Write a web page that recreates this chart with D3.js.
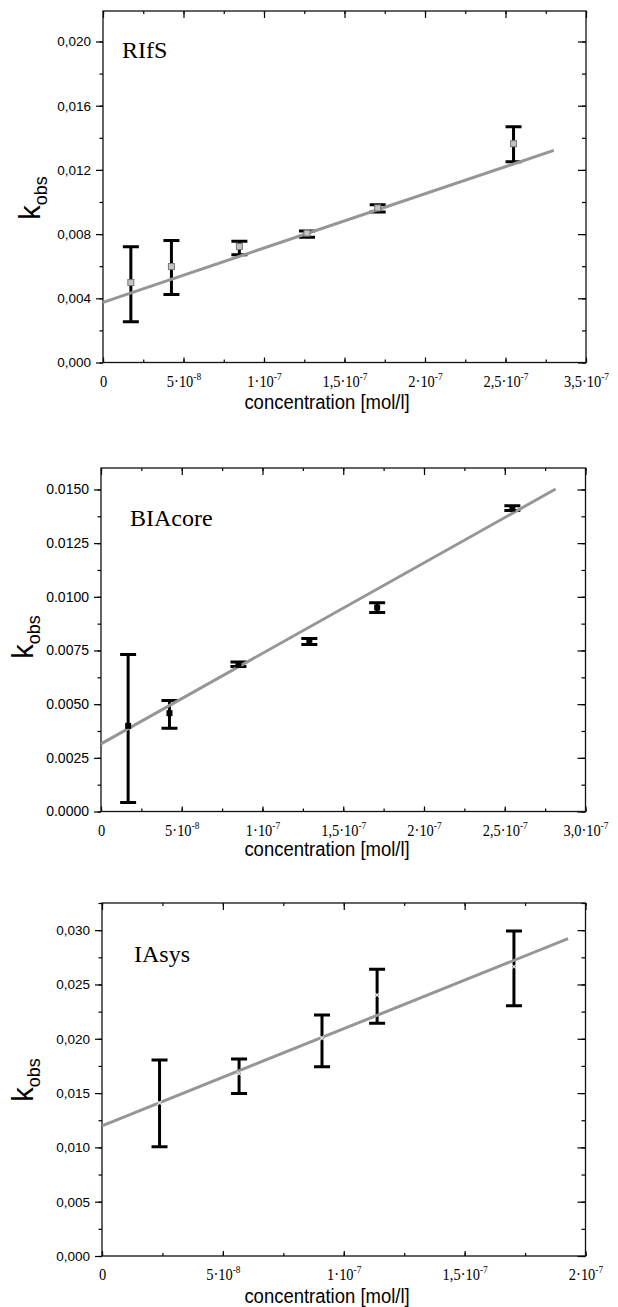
<!DOCTYPE html>
<html>
<head>
<meta charset="utf-8">
<script src="https://cdn.jsdelivr.net/npm/d3@7"></script>
<style>
  body { margin: 0; background: #fff; }
  svg { display: block; }
</style>
</head>
<body>
<svg width="618" height="1307"></svg>
<script>
var SANS = "'Liberation Sans', Arial, sans-serif";
var SERIF = "'Liberation Serif', 'Times New Roman', serif";

// ---- RIfS ----
var rifsConc  = [1.73e-8, 4.25e-8, 8.47e-8, 1.267e-7, 1.706e-7, 2.55e-7];
var rifsKobs  = [0.00498, 0.00598, 0.00723, 0.00806, 0.00963, 0.01363];
var rifsHi    = [0.00721, 0.00760, 0.00756, 0.00820, 0.00983, 0.01469];
var rifsLo    = [0.00254, 0.00423, 0.00671, 0.00780, 0.00938, 0.01250];
var rifsFit   = [0.00375, 33800];          // intercept, slope
var rifsFitEnd = 2.8e-7;
var rifsYTicks = [0, 0.004, 0.008, 0.012, 0.016, 0.020];
var rifsYLabels = ["0,000", "0,004", "0,008", "0,012", "0,016", "0,020"];
var rifsXTicks = [0, 5e-8, 1e-7, 1.5e-7, 2e-7, 2.5e-7, 3e-7];
var rifsXLabels = [["0", ""], ["5·10", "-8"], ["1·10", "-7"], ["1,5·10", "-7"], ["2·10", "-7"], ["2,5·10", "-7"], ["3,5·10", "-7"]];

// ---- BIAcore ----
var biaConc  = [1.68e-8, 4.24e-8, 8.51e-8, 1.29e-7, 1.71e-7, 2.547e-7];
var biaKobs  = [0.00399, 0.00458, 0.00683, 0.00795, 0.00950, 0.01411];
var biaHi    = [0.00731, 0.00517, 0.00696, 0.00806, 0.00972, 0.01424];
var biaLo    = [0.00042, 0.00388, 0.00675, 0.00778, 0.00927, 0.01402];
var biaFit   = [0.00315, 42170];
var biaFitEnd = 2.815e-7;
var biaYTicks = [0, 0.0025, 0.005, 0.0075, 0.01, 0.0125, 0.015];
var biaYLabels = ["0.0000", "0.0025", "0.0050", "0.0075", "0.0100", "0.0125", "0.0150"];
var biaXTicks = [0, 5e-8, 1e-7, 1.5e-7, 2e-7, 2.5e-7, 3e-7];
var biaXLabels = [["0", ""], ["5·10", "-8"], ["1·10", "-7"], ["1,5·10", "-7"], ["2·10", "-7"], ["2,5·10", "-7"], ["3,0·10", "-7"]];

// ---- IAsys ----
var iaConc  = [2.38e-8, 5.67e-8, 9.1e-8, 1.138e-7, 1.704e-7];
var iaKobs  = [0.0141, 0.0168, 0.02004, 0.02403, 0.02664];
var iaHi    = [0.01804, 0.01813, 0.02219, 0.0264, 0.02993];
var iaLo    = [0.01005, 0.01497, 0.01742, 0.02142, 0.02305];
var iaFit   = [0.01199, 89370];
var iaFitEnd = 1.928e-7;
var iaYTicks = [0, 0.005, 0.01, 0.015, 0.02, 0.025, 0.03];
var iaYLabels = ["0,000", "0,005", "0,010", "0,015", "0,020", "0,025", "0,030"];
var iaXTicks = [0, 5e-8, 1e-7, 1.5e-7, 2e-7];
var iaXLabels = [["0", ""], ["5·10", "-8"], ["1·10", "-7"], ["1,5·10", "-7"], ["2·10", "-7"]];

var svg = d3.select("svg");

function drawPanel(p) {
  var x = d3.scaleLinear().domain([0, p.xMax]).range([p.left, p.right]);
  var y = d3.scaleLinear().domain([0, p.yMax]).range([p.bottom, p.top]);
  var g = svg.append("g");

  var yStep = p.yTicks[1] - p.yTicks[0];
  var yMinor = d3.range(0, p.yMax + 1e-9, yStep / 2);
  var xStep = p.xTicks[1] - p.xTicks[0];
  var xMinor = d3.range(0, p.xMax + 1e-15, xStep / 2);

  // left axis: ticks outward
  g.append("g").attr("transform", "translate(" + p.left + ",0)")
    .call(d3.axisLeft(y).tickValues(yMinor).tickSize(3.5).tickFormat(""));
  var ya = g.append("g").attr("transform", "translate(" + p.left + ",0)")
    .call(d3.axisLeft(y).tickValues(p.yTicks).tickSize(7).tickPadding(5)
      .tickFormat(function(d, i) { return p.yLabels[i]; }));
  ya.attr("font-size", p.yFont).attr("font-family", SANS);

  // right axis: ticks inward
  g.append("g").attr("transform", "translate(" + p.right + ",0)")
    .call(d3.axisLeft(y).tickValues(yMinor).tickSize(4).tickFormat(""));
  g.append("g").attr("transform", "translate(" + p.right + ",0)")
    .call(d3.axisLeft(y).tickValues(p.yTicks).tickSize(8).tickFormat(""));

  // top axis: ticks inward
  g.append("g").attr("transform", "translate(0," + p.top + ")")
    .call(d3.axisBottom(x).tickValues(xMinor).tickSize(3).tickFormat(""));
  g.append("g").attr("transform", "translate(0," + p.top + ")")
    .call(d3.axisBottom(x).tickValues(p.xTicks).tickSize(7).tickFormat(""));

  // bottom axis
  g.append("g").attr("transform", "translate(0," + p.bottom + ")")
    .call(d3.axisTop(x).tickValues(xMinor).tickSize(3).tickFormat(""));
  var xa = g.append("g").attr("transform", "translate(0," + p.bottom + ")")
    .call(d3.axisTop(x).tickValues(p.xTicks).tickSize(5).tickFormat(""));
  xa.selectAll(".tick").append("text")
    .attr("fill", "#000")
    .attr("font-family", SERIF)
    .attr("font-size", 17)
    .attr("transform", "translate(0,24) scale(0.85,1)")
    .attr("text-anchor", "middle")
    .each(function(d, i) {
      var t = d3.select(this), lab = p.xLabels[i];
      t.append("tspan").text(lab[0]);
      if (lab[1]) t.append("tspan").attr("dy", -7).attr("font-size", 11).text(lab[1]);
    });

  g.selectAll(".domain").remove();
  g.selectAll(".tick line").attr("stroke", "#000").attr("stroke-width", 1.2);

  // frame
  g.append("rect")
    .attr("x", p.left).attr("y", p.top)
    .attr("width", p.right - p.left).attr("height", p.bottom - p.top)
    .attr("fill", "none").attr("stroke", "#111").attr("stroke-width", 1.3);

  // error bars
  var idx = d3.range(p.conc.length);
  var eb = g.append("g").attr("stroke", "#000").attr("stroke-width", 3).attr("fill", "none");
  eb.selectAll("path").data(idx).enter().append("path")
    .attr("d", function(i) {
      var cx = x(p.conc[i]), t = y(p.hi[i]), b = y(p.lo[i]), w = 8;
      return "M" + (cx - w) + "," + t + "H" + (cx + w) +
             "M" + cx + "," + t + "V" + b +
             "M" + (cx - w) + "," + b + "H" + (cx + w);
    });

  // fit line
  var fitX = [0, p.fitEnd];
  g.append("path")
    .datum(fitX)
    .attr("fill", "none").attr("stroke", "#969696").attr("stroke-width", 3)
    .attr("d", d3.line().x(function(d) { return x(d); })
      .y(function(d) { return y(p.fit[0] + p.fit[1] * d); }));

  // markers
  var mk = g.append("g");
  if (p.marker === "hollow") {
    mk.selectAll("rect").data(idx).enter().append("rect")
      .attr("x", function(i) { return x(p.conc[i]) - 3; })
      .attr("y", function(i) { return y(p.kobs[i]) - 3; })
      .attr("width", 6).attr("height", 6)
      .attr("fill", "#c4c4c4").attr("stroke", "#777").attr("stroke-width", 1);
  } else if (p.marker === "filled") {
    mk.selectAll("rect").data(idx).enter().append("rect")
      .attr("x", function(i) { return x(p.conc[i]) - 3; })
      .attr("y", function(i) { return y(p.kobs[i]) - 3; })
      .attr("width", 6).attr("height", 6)
      .attr("fill", "#000");
  } else {
    mk.selectAll("path").data(idx).enter().append("path")
      .attr("d", function(i) {
        var cx = x(p.conc[i]), cy = y(p.kobs[i]);
        return "M" + (cx - 2) + "," + (cy - 2) + "L" + (cx + 2) + "," + (cy + 2) +
               "M" + (cx + 2) + "," + (cy - 2) + "L" + (cx - 2) + "," + (cy + 2);
      })
      .attr("stroke", "#e6e6e6").attr("stroke-width", 1.2);
  }

  // panel name
  g.append("text")
    .attr("font-family", SERIF).attr("font-size", 24)
    .attr("x", p.nameX).attr("y", p.nameY).text(p.name);

  // axis titles
  g.append("text")
    .attr("font-family", SANS).attr("font-size", 21)
    .attr("transform", "translate(327," + (p.bottom + p.titleDy) + ") scale(0.88,1)")
    .attr("text-anchor", "middle").text("concentration [mol/l]");

  var ky = g.append("text")
    .attr("font-family", SANS)
    .attr("transform", "translate(" + p.kX + "," + p.kY + ") rotate(-90)")
    .attr("text-anchor", "middle");
  ky.append("tspan").attr("font-size", 29).text("k");
  ky.append("tspan").attr("font-size", 18).attr("dy", 7).text("obs");
}

drawPanel({
  conc: rifsConc, kobs: rifsKobs, hi: rifsHi, lo: rifsLo, fit: rifsFit, fitEnd: rifsFitEnd,
  yTicks: rifsYTicks, yLabels: rifsYLabels, xTicks: rifsXTicks, xLabels: rifsXLabels,
  xMax: 3e-7, yMax: 0.0219, left: 103, right: 586, top: 11, bottom: 362.5, yFont: 13.5,
  marker: "hollow", name: "RIfS", nameX: 122, nameY: 58, kX: 40, kY: 198, titleDy: 46
});

drawPanel({
  conc: biaConc, kobs: biaKobs, hi: biaHi, lo: biaLo, fit: biaFit, fitEnd: biaFitEnd,
  yTicks: biaYTicks, yLabels: biaYLabels, xTicks: biaXTicks, xLabels: biaXLabels,
  xMax: 3e-7, yMax: 0.0160, left: 101, right: 585.5, top: 468, bottom: 811.5, yFont: 14,
  marker: "filled", name: "BIAcore", nameX: 130, nameY: 526, kX: 33, kY: 637, titleDy: 44
});

drawPanel({
  conc: iaConc, kobs: iaKobs, hi: iaHi, lo: iaLo, fit: iaFit, fitEnd: iaFitEnd,
  yTicks: iaYTicks, yLabels: iaYLabels, xTicks: iaXTicks, xLabels: iaXLabels,
  xMax: 2e-7, yMax: 0.0325, left: 102, right: 585.5, top: 903, bottom: 1256, yFont: 13.5,
  marker: "cross", name: "IAsys", nameX: 134, nameY: 962, kX: 33, kY: 1080, titleDy: 47
});
</script>
</body>
</html>
